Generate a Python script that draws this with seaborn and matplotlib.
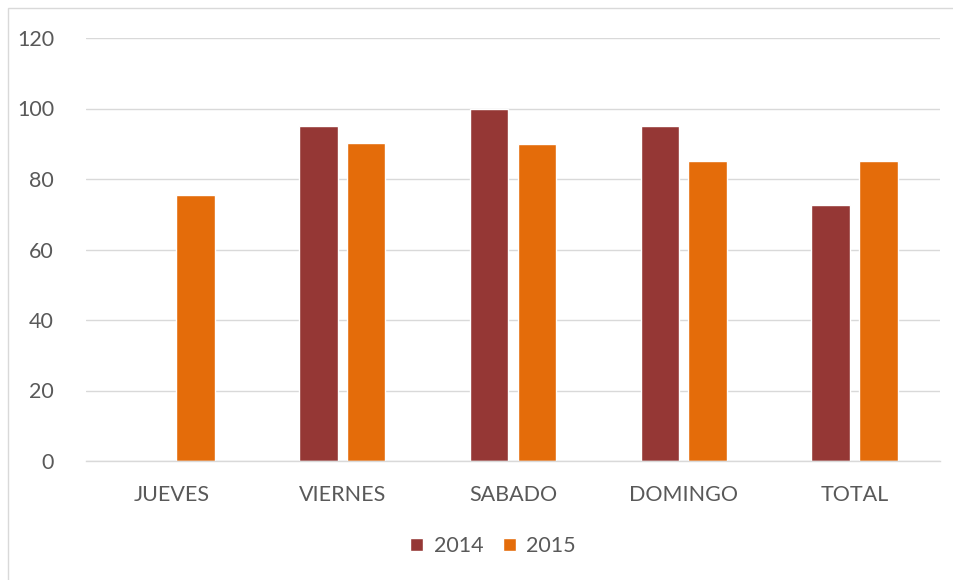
import matplotlib
matplotlib.use("Agg")
import matplotlib.pyplot as plt
import seaborn as sns
import pandas as pd
from matplotlib.patches import Rectangle

categories = ["JUEVES", "VIERNES", "SABADO", "DOMINGO", "TOTAL"]
series_2014 = [0, 95, 100, 95, 72.5]
series_2015 = [75.5, 90.3, 90, 85, 85.2]
years = ["2014", "2015"]
colors = ["#953735", "#E46C0A"]

df = pd.DataFrame({
    "cat": categories * 2,
    "year": [years[0]] * 5 + [years[1]] * 5,
    "val": series_2014 + series_2015,
})

sns.set_theme(style="white")
plt.rcParams["font.family"] = ["Lato", "DejaVu Sans"]

fig = plt.figure(figsize=(9.54, 5.8), dpi=100)
ax = fig.add_axes([86/954, 1-461/580, (940-86)/954, (461-38)/580])

sns.barplot(data=df, x="cat", y="val", hue="year", palette=colors,
            width=0.56, gap=0.19, ax=ax, saturation=1, legend=True)

ax.set_ylim(0, 120)
ax.set_yticks(range(0, 121, 20))
ax.set_xlim(-0.5, 4.5)
ax.grid(axis="y", color="#D9D9D9", linewidth=1)
ax.set_axisbelow(True)
for s in ["top", "right", "left"]:
    ax.spines[s].set_visible(False)
ax.spines["bottom"].set_color("#D9D9D9")
ax.spines["bottom"].set_linewidth(1)
ax.tick_params(axis="both", length=0, colors="#595959", labelsize=15.5)
ax.tick_params(axis="y", pad=23)
ax.tick_params(axis="x", pad=17)
ax.set_xlabel("")
ax.set_ylabel("")

leg = ax.legend(loc="center", bbox_to_anchor=(493/954, 1-546/580),
                bbox_transform=fig.transFigure, ncol=2, frameon=False,
                fontsize=15.5, handlelength=0.6, handleheight=0.6,
                columnspacing=0.9, handletextpad=0.5)
for t in leg.get_texts():
    t.set_color("#595959")

fig.patches.append(Rectangle((8/954, -0.05), 1.2, 1.05-8/580,
                             transform=fig.transFigure, fill=False,
                             edgecolor="#D9D9D9", linewidth=1))

fig.savefig("out.png", dpi=100)
